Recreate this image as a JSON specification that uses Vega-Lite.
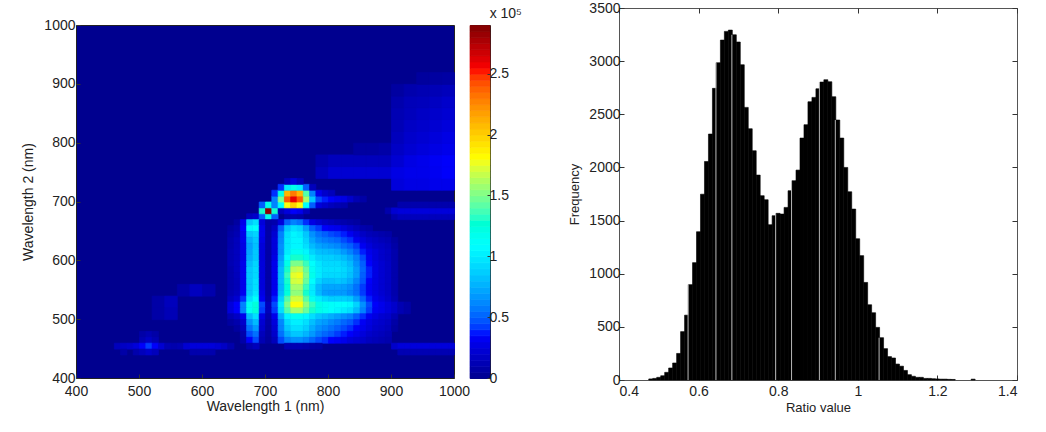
{"$schema":"https://vega.github.io/schema/vega-lite/v6.json","background":"white","padding":{"left":21,"top":0,"right":0,"bottom":0},"bounds":"full","spacing":45,
"config":{"font":"Liberation Sans","view":{"stroke":"#222"},"axis":{"grid":false,"labelFont":"Liberation Sans","titleFont":"Liberation Sans","labelColor":"#222","titleColor":"#222","titleFontWeight":"normal","domain":false,"tickColor":"#333"},"concat":{"spacing":16}},
"datasets":{
"fine":[
{"x":675,"y":675,"v":0.15},{"x":685,"y":675,"v":0.2},{"x":695,"y":675,"v":0.5},{"x":705,"y":675,"v":1.2},{"x":715,"y":675,"v":0.5},{"x":735,"y":675,"v":0.08},{"x":745,"y":675,"v":0.1},{"x":755,"y":675,"v":0.08},{"x":905,"y":675,"v":0.1},{"x":915,"y":675,"v":0.15},{"x":925,"y":675,"v":0.15},{"x":935,"y":675,"v":0.15},{"x":945,"y":675,"v":0.15},{"x":955,"y":675,"v":0.15},{"x":965,"y":675,"v":0.15},{"x":975,"y":675,"v":0.15},{"x":985,"y":675,"v":0.15},{"x":995,"y":675,"v":0.15},
{"x":695,"y":685,"v":1.3},{"x":705,"y":685,"v":2.85},{"x":715,"y":685,"v":1.3},{"x":725,"y":685,"v":0.15},{"x":735,"y":685,"v":0.25},{"x":745,"y":685,"v":0.35},{"x":755,"y":685,"v":0.3},{"x":765,"y":685,"v":0.15},{"x":895,"y":685,"v":0.1},{"x":905,"y":685,"v":0.22},{"x":915,"y":685,"v":0.25},{"x":925,"y":685,"v":0.25},{"x":935,"y":685,"v":0.25},{"x":945,"y":685,"v":0.25},{"x":955,"y":685,"v":0.25},{"x":965,"y":685,"v":0.25},{"x":975,"y":685,"v":0.25},{"x":985,"y":685,"v":0.25},{"x":995,"y":685,"v":0.25},
{"x":695,"y":695,"v":0.5},{"x":705,"y":695,"v":1.2},{"x":715,"y":695,"v":0.6},{"x":725,"y":695,"v":1.1},{"x":735,"y":695,"v":1.8},{"x":745,"y":695,"v":2.0},{"x":755,"y":695,"v":1.8},{"x":765,"y":695,"v":1.1},{"x":775,"y":695,"v":0.5},{"x":785,"y":695,"v":0.25},{"x":795,"y":695,"v":0.2},{"x":805,"y":695,"v":0.15},{"x":815,"y":695,"v":0.12},{"x":825,"y":695,"v":0.1},{"x":915,"y":695,"v":0.1},{"x":935,"y":695,"v":0.1},{"x":955,"y":695,"v":0.1},{"x":975,"y":695,"v":0.1},{"x":995,"y":695,"v":0.1},{"x":925,"y":695,"v":0.1},{"x":945,"y":695,"v":0.1},{"x":965,"y":695,"v":0.1},{"x":985,"y":695,"v":0.1},
{"x":715,"y":705,"v":0.6},{"x":725,"y":705,"v":1.5},{"x":735,"y":705,"v":2.4},{"x":745,"y":705,"v":2.6},{"x":755,"y":705,"v":2.4},{"x":765,"y":705,"v":1.6},{"x":775,"y":705,"v":0.85},{"x":785,"y":705,"v":0.45},{"x":795,"y":705,"v":0.38},{"x":805,"y":705,"v":0.35},{"x":815,"y":705,"v":0.3},{"x":825,"y":705,"v":0.28},{"x":835,"y":705,"v":0.2},{"x":845,"y":705,"v":0.12},{"x":855,"y":705,"v":0.08},
{"x":715,"y":715,"v":0.4},{"x":725,"y":715,"v":1.2},{"x":735,"y":715,"v":2.1},{"x":745,"y":715,"v":2.3},{"x":755,"y":715,"v":2.1},{"x":765,"y":715,"v":1.4},{"x":775,"y":715,"v":0.6},{"x":785,"y":715,"v":0.3},{"x":795,"y":715,"v":0.2},{"x":805,"y":715,"v":0.15},
{"x":725,"y":725,"v":0.4},{"x":735,"y":725,"v":1.0},{"x":745,"y":725,"v":1.2},{"x":755,"y":725,"v":1.0},{"x":765,"y":725,"v":0.5},{"x":775,"y":725,"v":0.15},{"x":735,"y":735,"v":0.15},{"x":745,"y":735,"v":0.25},{"x":755,"y":735,"v":0.15},
{"x":655,"y":665,"v":0.06},{"x":665,"y":665,"v":0.3},{"x":675,"y":665,"v":0.85},{"x":685,"y":665,"v":0.95},{"x":695,"y":665,"v":0.25},{"x":705,"y":665,"v":0.08},{"x":715,"y":665,"v":0.1},{"x":725,"y":665,"v":0.25},{"x":735,"y":665,"v":0.5},{"x":745,"y":665,"v":0.6},{"x":755,"y":665,"v":0.55},{"x":765,"y":665,"v":0.4},{"x":775,"y":665,"v":0.28},{"x":785,"y":665,"v":0.22},{"x":795,"y":665,"v":0.18},{"x":805,"y":665,"v":0.15},{"x":815,"y":665,"v":0.12},{"x":825,"y":665,"v":0.1},{"x":835,"y":665,"v":0.08},{"x":845,"y":665,"v":0.06},
{"x":645,"y":655,"v":0.06},{"x":655,"y":655,"v":0.1},{"x":665,"y":655,"v":0.35},{"x":675,"y":655,"v":1.05},{"x":685,"y":655,"v":1.1},{"x":695,"y":655,"v":0.3},{"x":705,"y":655,"v":0.08},{"x":715,"y":655,"v":0.18},{"x":725,"y":655,"v":0.5},{"x":735,"y":655,"v":0.85},{"x":745,"y":655,"v":0.95},{"x":755,"y":655,"v":0.9},{"x":765,"y":655,"v":0.7},{"x":775,"y":655,"v":0.5},{"x":785,"y":655,"v":0.42},{"x":795,"y":655,"v":0.35},{"x":805,"y":655,"v":0.32},{"x":815,"y":655,"v":0.3},{"x":825,"y":655,"v":0.25},{"x":835,"y":655,"v":0.2},{"x":845,"y":655,"v":0.15},{"x":855,"y":655,"v":0.1},{"x":865,"y":655,"v":0.08},
{"x":645,"y":645,"v":0.08},{"x":655,"y":645,"v":0.12},{"x":665,"y":645,"v":0.3},{"x":675,"y":645,"v":0.85},{"x":685,"y":645,"v":0.9},{"x":695,"y":645,"v":0.3},{"x":705,"y":645,"v":0.08},{"x":715,"y":645,"v":0.22},{"x":725,"y":645,"v":0.6},{"x":735,"y":645,"v":0.95},{"x":745,"y":645,"v":1.05},{"x":755,"y":645,"v":1.0},{"x":765,"y":645,"v":0.85},{"x":775,"y":645,"v":0.65},{"x":785,"y":645,"v":0.55},{"x":795,"y":645,"v":0.5},{"x":805,"y":645,"v":0.45},{"x":815,"y":645,"v":0.42},{"x":825,"y":645,"v":0.38},{"x":835,"y":645,"v":0.32},{"x":845,"y":645,"v":0.25},{"x":855,"y":645,"v":0.18},{"x":865,"y":645,"v":0.14},{"x":875,"y":645,"v":0.12},{"x":885,"y":645,"v":0.1},{"x":895,"y":645,"v":0.08},
{"x":645,"y":635,"v":0.1},{"x":655,"y":635,"v":0.15},{"x":665,"y":635,"v":0.3},{"x":675,"y":635,"v":0.75},{"x":685,"y":635,"v":0.85},{"x":695,"y":635,"v":0.28},{"x":705,"y":635,"v":0.08},{"x":715,"y":635,"v":0.25},{"x":725,"y":635,"v":0.62},{"x":735,"y":635,"v":0.98},{"x":745,"y":635,"v":1.05},{"x":755,"y":635,"v":1.05},{"x":765,"y":635,"v":0.9},{"x":775,"y":635,"v":0.72},{"x":785,"y":635,"v":0.62},{"x":795,"y":635,"v":0.58},{"x":805,"y":635,"v":0.55},{"x":815,"y":635,"v":0.52},{"x":825,"y":635,"v":0.45},{"x":835,"y":635,"v":0.4},{"x":845,"y":635,"v":0.32},{"x":855,"y":635,"v":0.25},{"x":865,"y":635,"v":0.2},{"x":875,"y":635,"v":0.17},{"x":885,"y":635,"v":0.14},{"x":895,"y":635,"v":0.12},{"x":905,"y":635,"v":0.06},
{"x":645,"y":625,"v":0.1},{"x":655,"y":625,"v":0.15},{"x":665,"y":625,"v":0.28},{"x":675,"y":625,"v":0.7},{"x":685,"y":625,"v":0.82},{"x":695,"y":625,"v":0.25},{"x":705,"y":625,"v":0.08},{"x":715,"y":625,"v":0.25},{"x":725,"y":625,"v":0.65},{"x":735,"y":625,"v":0.98},{"x":745,"y":625,"v":1.05},{"x":755,"y":625,"v":1.05},{"x":765,"y":625,"v":0.95},{"x":775,"y":625,"v":0.8},{"x":785,"y":625,"v":0.72},{"x":795,"y":625,"v":0.68},{"x":805,"y":625,"v":0.65},{"x":815,"y":625,"v":0.62},{"x":825,"y":625,"v":0.55},{"x":835,"y":625,"v":0.5},{"x":845,"y":625,"v":0.42},{"x":855,"y":625,"v":0.32},{"x":865,"y":625,"v":0.25},{"x":875,"y":625,"v":0.2},{"x":885,"y":625,"v":0.18},{"x":895,"y":625,"v":0.15},{"x":905,"y":625,"v":0.08},
{"x":645,"y":615,"v":0.12},{"x":655,"y":615,"v":0.16},{"x":665,"y":615,"v":0.28},{"x":675,"y":615,"v":0.72},{"x":685,"y":615,"v":0.85},{"x":695,"y":615,"v":0.25},{"x":705,"y":615,"v":0.08},{"x":715,"y":615,"v":0.25},{"x":725,"y":615,"v":0.65},{"x":735,"y":615,"v":1.0},{"x":745,"y":615,"v":1.15},{"x":755,"y":615,"v":1.15},{"x":765,"y":615,"v":1.05},{"x":775,"y":615,"v":0.9},{"x":785,"y":615,"v":0.82},{"x":795,"y":615,"v":0.8},{"x":805,"y":615,"v":0.78},{"x":815,"y":615,"v":0.75},{"x":825,"y":615,"v":0.68},{"x":835,"y":615,"v":0.6},{"x":845,"y":615,"v":0.5},{"x":855,"y":615,"v":0.38},{"x":865,"y":615,"v":0.3},{"x":875,"y":615,"v":0.25},{"x":885,"y":615,"v":0.2},{"x":895,"y":615,"v":0.17},{"x":905,"y":615,"v":0.1},
{"x":645,"y":605,"v":0.12},{"x":655,"y":605,"v":0.16},{"x":665,"y":605,"v":0.28},{"x":675,"y":605,"v":0.75},{"x":685,"y":605,"v":0.85},{"x":695,"y":605,"v":0.25},{"x":705,"y":605,"v":0.08},{"x":715,"y":605,"v":0.28},{"x":725,"y":605,"v":0.7},{"x":735,"y":605,"v":1.1},{"x":745,"y":605,"v":1.3},{"x":755,"y":605,"v":1.3},{"x":765,"y":605,"v":1.2},{"x":775,"y":605,"v":1.0},{"x":785,"y":605,"v":0.9},{"x":795,"y":605,"v":0.88},{"x":805,"y":605,"v":0.88},{"x":815,"y":605,"v":0.85},{"x":825,"y":605,"v":0.8},{"x":835,"y":605,"v":0.72},{"x":845,"y":605,"v":0.6},{"x":855,"y":605,"v":0.45},{"x":865,"y":605,"v":0.33},{"x":875,"y":605,"v":0.25},{"x":885,"y":605,"v":0.2},{"x":895,"y":605,"v":0.17},{"x":905,"y":605,"v":0.1},
{"x":645,"y":595,"v":0.12},{"x":655,"y":595,"v":0.16},{"x":665,"y":595,"v":0.3},{"x":675,"y":595,"v":0.8},{"x":685,"y":595,"v":0.9},{"x":695,"y":595,"v":0.25},{"x":705,"y":595,"v":0.08},{"x":715,"y":595,"v":0.3},{"x":725,"y":595,"v":0.75},{"x":735,"y":595,"v":1.2},{"x":745,"y":595,"v":1.5},{"x":755,"y":595,"v":1.5},{"x":765,"y":595,"v":1.35},{"x":775,"y":595,"v":1.1},{"x":785,"y":595,"v":0.98},{"x":795,"y":595,"v":0.92},{"x":805,"y":595,"v":0.92},{"x":815,"y":595,"v":0.92},{"x":825,"y":595,"v":0.88},{"x":835,"y":595,"v":0.8},{"x":845,"y":595,"v":0.65},{"x":855,"y":595,"v":0.5},{"x":865,"y":595,"v":0.36},{"x":875,"y":595,"v":0.27},{"x":885,"y":595,"v":0.22},{"x":895,"y":595,"v":0.18},{"x":905,"y":595,"v":0.1},
{"x":645,"y":585,"v":0.1},{"x":655,"y":585,"v":0.16},{"x":665,"y":585,"v":0.3},{"x":675,"y":585,"v":0.85},{"x":685,"y":585,"v":0.92},{"x":695,"y":585,"v":0.25},{"x":705,"y":585,"v":0.08},{"x":715,"y":585,"v":0.3},{"x":725,"y":585,"v":0.8},{"x":735,"y":585,"v":1.3},{"x":745,"y":585,"v":1.65},{"x":755,"y":585,"v":1.68},{"x":765,"y":585,"v":1.45},{"x":775,"y":585,"v":1.15},{"x":785,"y":585,"v":1.0},{"x":795,"y":585,"v":0.95},{"x":805,"y":585,"v":0.95},{"x":815,"y":585,"v":0.95},{"x":825,"y":585,"v":0.92},{"x":835,"y":585,"v":0.85},{"x":845,"y":585,"v":0.7},{"x":855,"y":585,"v":0.52},{"x":865,"y":585,"v":0.38},{"x":875,"y":585,"v":0.28},{"x":885,"y":585,"v":0.22},{"x":895,"y":585,"v":0.18},{"x":905,"y":585,"v":0.1},
{"x":645,"y":575,"v":0.1},{"x":655,"y":575,"v":0.15},{"x":665,"y":575,"v":0.3},{"x":675,"y":575,"v":0.85},{"x":685,"y":575,"v":0.92},{"x":695,"y":575,"v":0.25},{"x":705,"y":575,"v":0.08},{"x":715,"y":575,"v":0.3},{"x":725,"y":575,"v":0.8},{"x":735,"y":575,"v":1.35},{"x":745,"y":575,"v":1.75},{"x":755,"y":575,"v":1.78},{"x":765,"y":575,"v":1.5},{"x":775,"y":575,"v":1.18},{"x":785,"y":575,"v":1.0},{"x":795,"y":575,"v":0.92},{"x":805,"y":575,"v":0.92},{"x":815,"y":575,"v":0.92},{"x":825,"y":575,"v":0.9},{"x":835,"y":575,"v":0.82},{"x":845,"y":575,"v":0.7},{"x":855,"y":575,"v":0.5},{"x":865,"y":575,"v":0.38},{"x":875,"y":575,"v":0.28},{"x":885,"y":575,"v":0.22},{"x":895,"y":575,"v":0.18},{"x":905,"y":575,"v":0.1},
{"x":645,"y":565,"v":0.1},{"x":655,"y":565,"v":0.14},{"x":665,"y":565,"v":0.3},{"x":675,"y":565,"v":0.85},{"x":685,"y":565,"v":0.95},{"x":695,"y":565,"v":0.25},{"x":705,"y":565,"v":0.08},{"x":715,"y":565,"v":0.3},{"x":725,"y":565,"v":0.8},{"x":735,"y":565,"v":1.3},{"x":745,"y":565,"v":1.7},{"x":755,"y":565,"v":1.72},{"x":765,"y":565,"v":1.45},{"x":775,"y":565,"v":1.1},{"x":785,"y":565,"v":0.9},{"x":795,"y":565,"v":0.82},{"x":805,"y":565,"v":0.82},{"x":815,"y":565,"v":0.85},{"x":825,"y":565,"v":0.82},{"x":835,"y":565,"v":0.75},{"x":845,"y":565,"v":0.62},{"x":855,"y":565,"v":0.48},{"x":865,"y":565,"v":0.35},{"x":875,"y":565,"v":0.27},{"x":885,"y":565,"v":0.22},{"x":895,"y":565,"v":0.18},{"x":905,"y":565,"v":0.1},
{"x":645,"y":555,"v":0.1},{"x":655,"y":555,"v":0.14},{"x":665,"y":555,"v":0.3},{"x":675,"y":555,"v":0.85},{"x":685,"y":555,"v":0.95},{"x":695,"y":555,"v":0.25},{"x":705,"y":555,"v":0.08},{"x":715,"y":555,"v":0.3},{"x":725,"y":555,"v":0.78},{"x":735,"y":555,"v":1.25},{"x":745,"y":555,"v":1.6},{"x":755,"y":555,"v":1.6},{"x":765,"y":555,"v":1.35},{"x":775,"y":555,"v":1.0},{"x":785,"y":555,"v":0.8},{"x":795,"y":555,"v":0.72},{"x":805,"y":555,"v":0.72},{"x":815,"y":555,"v":0.72},{"x":825,"y":555,"v":0.7},{"x":835,"y":555,"v":0.65},{"x":845,"y":555,"v":0.55},{"x":855,"y":555,"v":0.42},{"x":865,"y":555,"v":0.33},{"x":875,"y":555,"v":0.27},{"x":885,"y":555,"v":0.22},{"x":895,"y":555,"v":0.18},{"x":905,"y":555,"v":0.1},
{"x":645,"y":545,"v":0.12},{"x":655,"y":545,"v":0.16},{"x":665,"y":545,"v":0.32},{"x":675,"y":545,"v":0.85},{"x":685,"y":545,"v":0.98},{"x":695,"y":545,"v":0.28},{"x":705,"y":545,"v":0.08},{"x":715,"y":545,"v":0.32},{"x":725,"y":545,"v":0.8},{"x":735,"y":545,"v":1.25},{"x":745,"y":545,"v":1.55},{"x":755,"y":545,"v":1.55},{"x":765,"y":545,"v":1.3},{"x":775,"y":545,"v":1.0},{"x":785,"y":545,"v":0.8},{"x":795,"y":545,"v":0.7},{"x":805,"y":545,"v":0.68},{"x":815,"y":545,"v":0.68},{"x":825,"y":545,"v":0.68},{"x":835,"y":545,"v":0.62},{"x":845,"y":545,"v":0.55},{"x":855,"y":545,"v":0.42},{"x":865,"y":545,"v":0.33},{"x":875,"y":545,"v":0.27},{"x":885,"y":545,"v":0.22},{"x":895,"y":545,"v":0.18},{"x":905,"y":545,"v":0.1},
{"x":645,"y":535,"v":0.16},{"x":655,"y":535,"v":0.22},{"x":665,"y":535,"v":0.4},{"x":675,"y":535,"v":0.95},{"x":685,"y":535,"v":1.1},{"x":695,"y":535,"v":0.32},{"x":705,"y":535,"v":0.1},{"x":715,"y":535,"v":0.38},{"x":725,"y":535,"v":0.9},{"x":735,"y":535,"v":1.4},{"x":745,"y":535,"v":1.7},{"x":755,"y":535,"v":1.7},{"x":765,"y":535,"v":1.42},{"x":775,"y":535,"v":1.15},{"x":785,"y":535,"v":1.0},{"x":795,"y":535,"v":0.92},{"x":805,"y":535,"v":0.88},{"x":815,"y":535,"v":0.88},{"x":825,"y":535,"v":0.88},{"x":835,"y":535,"v":0.85},{"x":845,"y":535,"v":0.7},{"x":855,"y":535,"v":0.52},{"x":865,"y":535,"v":0.38},{"x":875,"y":535,"v":0.3},{"x":885,"y":535,"v":0.25},{"x":895,"y":535,"v":0.2},{"x":905,"y":535,"v":0.12},
{"x":645,"y":525,"v":0.25},{"x":655,"y":525,"v":0.35},{"x":665,"y":525,"v":0.6},{"x":675,"y":525,"v":1.15},{"x":685,"y":525,"v":1.25},{"x":695,"y":525,"v":0.45},{"x":705,"y":525,"v":0.15},{"x":715,"y":525,"v":0.45},{"x":725,"y":525,"v":1.0},{"x":735,"y":525,"v":1.5},{"x":745,"y":525,"v":1.8},{"x":755,"y":525,"v":1.8},{"x":765,"y":525,"v":1.55},{"x":775,"y":525,"v":1.35},{"x":785,"y":525,"v":1.2},{"x":795,"y":525,"v":1.15},{"x":805,"y":525,"v":1.12},{"x":815,"y":525,"v":1.1},{"x":825,"y":525,"v":1.1},{"x":835,"y":525,"v":1.05},{"x":845,"y":525,"v":0.9},{"x":855,"y":525,"v":0.65},{"x":865,"y":525,"v":0.45},{"x":875,"y":525,"v":0.35},{"x":885,"y":525,"v":0.3},{"x":895,"y":525,"v":0.25},{"x":905,"y":525,"v":0.2},{"x":915,"y":525,"v":0.12},{"x":925,"y":525,"v":0.08},
{"x":645,"y":515,"v":0.25},{"x":655,"y":515,"v":0.35},{"x":665,"y":515,"v":0.6},{"x":675,"y":515,"v":1.15},{"x":685,"y":515,"v":1.25},{"x":695,"y":515,"v":0.42},{"x":705,"y":515,"v":0.15},{"x":715,"y":515,"v":0.42},{"x":725,"y":515,"v":0.95},{"x":735,"y":515,"v":1.4},{"x":745,"y":515,"v":1.6},{"x":755,"y":515,"v":1.6},{"x":765,"y":515,"v":1.45},{"x":775,"y":515,"v":1.3},{"x":785,"y":515,"v":1.2},{"x":795,"y":515,"v":1.15},{"x":805,"y":515,"v":1.1},{"x":815,"y":515,"v":1.05},{"x":825,"y":515,"v":1.0},{"x":835,"y":515,"v":0.95},{"x":845,"y":515,"v":0.8},{"x":855,"y":515,"v":0.6},{"x":865,"y":515,"v":0.42},{"x":875,"y":515,"v":0.33},{"x":885,"y":515,"v":0.3},{"x":895,"y":515,"v":0.25},{"x":905,"y":515,"v":0.2},{"x":915,"y":515,"v":0.12},{"x":925,"y":515,"v":0.08},
{"x":645,"y":505,"v":0.12},{"x":655,"y":505,"v":0.18},{"x":665,"y":505,"v":0.3},{"x":675,"y":505,"v":0.8},{"x":685,"y":505,"v":0.95},{"x":695,"y":505,"v":0.28},{"x":705,"y":505,"v":0.1},{"x":715,"y":505,"v":0.3},{"x":725,"y":505,"v":0.75},{"x":735,"y":505,"v":1.05},{"x":745,"y":505,"v":1.15},{"x":755,"y":505,"v":1.15},{"x":765,"y":505,"v":1.05},{"x":775,"y":505,"v":0.95},{"x":785,"y":505,"v":0.85},{"x":795,"y":505,"v":0.8},{"x":805,"y":505,"v":0.75},{"x":815,"y":505,"v":0.7},{"x":825,"y":505,"v":0.65},{"x":835,"y":505,"v":0.6},{"x":845,"y":505,"v":0.5},{"x":855,"y":505,"v":0.4},{"x":865,"y":505,"v":0.32},{"x":875,"y":505,"v":0.27},{"x":885,"y":505,"v":0.22},{"x":895,"y":505,"v":0.2},{"x":905,"y":505,"v":0.12},
{"x":645,"y":495,"v":0.06},{"x":655,"y":495,"v":0.1},{"x":665,"y":495,"v":0.2},{"x":675,"y":495,"v":0.65},{"x":685,"y":495,"v":0.8},{"x":695,"y":495,"v":0.22},{"x":705,"y":495,"v":0.08},{"x":715,"y":495,"v":0.25},{"x":725,"y":495,"v":0.62},{"x":735,"y":495,"v":0.92},{"x":745,"y":495,"v":1.02},{"x":755,"y":495,"v":1.02},{"x":765,"y":495,"v":0.95},{"x":775,"y":495,"v":0.82},{"x":785,"y":495,"v":0.72},{"x":795,"y":495,"v":0.68},{"x":805,"y":495,"v":0.62},{"x":815,"y":495,"v":0.58},{"x":825,"y":495,"v":0.52},{"x":835,"y":495,"v":0.48},{"x":845,"y":495,"v":0.4},{"x":855,"y":495,"v":0.33},{"x":865,"y":495,"v":0.27},{"x":875,"y":495,"v":0.22},{"x":885,"y":495,"v":0.2},{"x":895,"y":495,"v":0.17},{"x":905,"y":495,"v":0.08},
{"x":655,"y":485,"v":0.06},{"x":665,"y":485,"v":0.15},{"x":675,"y":485,"v":0.55},{"x":685,"y":485,"v":0.68},{"x":695,"y":485,"v":0.2},{"x":705,"y":485,"v":0.07},{"x":715,"y":485,"v":0.22},{"x":725,"y":485,"v":0.6},{"x":735,"y":485,"v":0.85},{"x":745,"y":485,"v":0.95},{"x":755,"y":485,"v":0.95},{"x":765,"y":485,"v":0.88},{"x":775,"y":485,"v":0.75},{"x":785,"y":485,"v":0.65},{"x":795,"y":485,"v":0.6},{"x":805,"y":485,"v":0.55},{"x":815,"y":485,"v":0.5},{"x":825,"y":485,"v":0.45},{"x":835,"y":485,"v":0.4},{"x":845,"y":485,"v":0.35},{"x":855,"y":485,"v":0.3},{"x":865,"y":485,"v":0.25},{"x":875,"y":485,"v":0.2},{"x":885,"y":485,"v":0.18},{"x":895,"y":485,"v":0.15},{"x":905,"y":485,"v":0.06},
{"x":665,"y":475,"v":0.1},{"x":675,"y":475,"v":0.45},{"x":685,"y":475,"v":0.55},{"x":695,"y":475,"v":0.15},{"x":705,"y":475,"v":0.06},{"x":715,"y":475,"v":0.2},{"x":725,"y":475,"v":0.55},{"x":735,"y":475,"v":0.75},{"x":745,"y":475,"v":0.85},{"x":755,"y":475,"v":0.85},{"x":765,"y":475,"v":0.78},{"x":775,"y":475,"v":0.68},{"x":785,"y":475,"v":0.58},{"x":795,"y":475,"v":0.52},{"x":805,"y":475,"v":0.48},{"x":815,"y":475,"v":0.42},{"x":825,"y":475,"v":0.38},{"x":835,"y":475,"v":0.35},{"x":845,"y":475,"v":0.3},{"x":855,"y":475,"v":0.25},{"x":865,"y":475,"v":0.2},{"x":875,"y":475,"v":0.17},{"x":885,"y":475,"v":0.15},{"x":895,"y":475,"v":0.12},{"x":505,"y":475,"v":0.08},{"x":515,"y":475,"v":0.12},{"x":525,"y":475,"v":0.08},
{"x":665,"y":465,"v":0.08},{"x":675,"y":465,"v":0.35},{"x":685,"y":465,"v":0.45},{"x":695,"y":465,"v":0.12},{"x":705,"y":465,"v":0.05},{"x":715,"y":465,"v":0.15},{"x":725,"y":465,"v":0.45},{"x":735,"y":465,"v":0.6},{"x":745,"y":465,"v":0.65},{"x":755,"y":465,"v":0.65},{"x":765,"y":465,"v":0.6},{"x":775,"y":465,"v":0.52},{"x":785,"y":465,"v":0.45},{"x":795,"y":465,"v":0.4},{"x":805,"y":465,"v":0.36},{"x":815,"y":465,"v":0.33},{"x":825,"y":465,"v":0.3},{"x":835,"y":465,"v":0.25},{"x":845,"y":465,"v":0.22},{"x":855,"y":465,"v":0.2},{"x":865,"y":465,"v":0.16},{"x":875,"y":465,"v":0.14},{"x":885,"y":465,"v":0.12},{"x":895,"y":465,"v":0.1},{"x":505,"y":465,"v":0.12},{"x":515,"y":465,"v":0.18},{"x":525,"y":465,"v":0.12},
{"x":465,"y":455,"v":0.15},{"x":475,"y":455,"v":0.18},{"x":485,"y":455,"v":0.2},{"x":495,"y":455,"v":0.25},{"x":505,"y":455,"v":0.35},{"x":515,"y":455,"v":0.42},{"x":525,"y":455,"v":0.35},{"x":535,"y":455,"v":0.22},{"x":545,"y":455,"v":0.12},{"x":555,"y":455,"v":0.1},{"x":565,"y":455,"v":0.12},{"x":575,"y":455,"v":0.22},{"x":585,"y":455,"v":0.25},{"x":595,"y":455,"v":0.25},{"x":605,"y":455,"v":0.25},{"x":615,"y":455,"v":0.25},{"x":625,"y":455,"v":0.22},{"x":635,"y":455,"v":0.18},{"x":645,"y":455,"v":0.1},{"x":675,"y":455,"v":0.1},{"x":685,"y":455,"v":0.15},{"x":735,"y":455,"v":0.12},{"x":745,"y":455,"v":0.12},{"x":755,"y":455,"v":0.12},{"x":765,"y":455,"v":0.1},{"x":775,"y":455,"v":0.08},{"x":785,"y":455,"v":0.07},{"x":905,"y":455,"v":0.2},{"x":915,"y":455,"v":0.25},{"x":925,"y":455,"v":0.25},{"x":935,"y":455,"v":0.25},{"x":945,"y":455,"v":0.25},{"x":955,"y":455,"v":0.25},{"x":965,"y":455,"v":0.25},{"x":975,"y":455,"v":0.25},{"x":985,"y":455,"v":0.25},{"x":995,"y":455,"v":0.25},
{"x":475,"y":445,"v":0.08},{"x":495,"y":445,"v":0.1},{"x":505,"y":445,"v":0.15},{"x":515,"y":445,"v":0.2},{"x":525,"y":445,"v":0.15},{"x":585,"y":445,"v":0.1},{"x":595,"y":445,"v":0.1},{"x":605,"y":445,"v":0.1},{"x":615,"y":445,"v":0.1},{"x":915,"y":445,"v":0.12},{"x":925,"y":445,"v":0.12},{"x":935,"y":445,"v":0.12},{"x":945,"y":445,"v":0.12},{"x":955,"y":445,"v":0.12},{"x":965,"y":445,"v":0.12},{"x":975,"y":445,"v":0.12},{"x":985,"y":445,"v":0.12},{"x":995,"y":445,"v":0.12}
],
"coarse":[
{"x":910,"y":730,"v":0.25},{"x":930,"y":730,"v":0.28},{"x":950,"y":730,"v":0.28},{"x":970,"y":730,"v":0.3},{"x":990,"y":730,"v":0.3},
{"x":790,"y":750,"v":0.15},{"x":810,"y":750,"v":0.22},{"x":830,"y":750,"v":0.22},{"x":850,"y":750,"v":0.22},{"x":870,"y":750,"v":0.22},{"x":890,"y":750,"v":0.22},{"x":910,"y":750,"v":0.28},{"x":930,"y":750,"v":0.3},{"x":950,"y":750,"v":0.3},{"x":970,"y":750,"v":0.32},{"x":990,"y":750,"v":0.35},
{"x":790,"y":770,"v":0.1},{"x":810,"y":770,"v":0.15},{"x":830,"y":770,"v":0.15},{"x":850,"y":770,"v":0.15},{"x":870,"y":770,"v":0.15},{"x":890,"y":770,"v":0.15},{"x":910,"y":770,"v":0.22},{"x":930,"y":770,"v":0.28},{"x":950,"y":770,"v":0.3},{"x":970,"y":770,"v":0.33},{"x":990,"y":770,"v":0.35},
{"x":850,"y":790,"v":0.06},{"x":870,"y":790,"v":0.06},{"x":890,"y":790,"v":0.08},{"x":910,"y":790,"v":0.18},{"x":930,"y":790,"v":0.22},{"x":950,"y":790,"v":0.25},{"x":970,"y":790,"v":0.28},{"x":990,"y":790,"v":0.3},
{"x":910,"y":810,"v":0.15},{"x":930,"y":810,"v":0.2},{"x":950,"y":810,"v":0.22},{"x":970,"y":810,"v":0.25},{"x":990,"y":810,"v":0.28},
{"x":910,"y":830,"v":0.13},{"x":930,"y":830,"v":0.18},{"x":950,"y":830,"v":0.2},{"x":970,"y":830,"v":0.22},{"x":990,"y":830,"v":0.25},
{"x":910,"y":850,"v":0.12},{"x":930,"y":850,"v":0.15},{"x":950,"y":850,"v":0.18},{"x":970,"y":850,"v":0.2},{"x":990,"y":850,"v":0.22},
{"x":910,"y":870,"v":0.1},{"x":930,"y":870,"v":0.14},{"x":950,"y":870,"v":0.15},{"x":970,"y":870,"v":0.17},{"x":990,"y":870,"v":0.2},
{"x":910,"y":890,"v":0.06},{"x":930,"y":890,"v":0.1},{"x":950,"y":890,"v":0.12},{"x":970,"y":890,"v":0.13},{"x":990,"y":890,"v":0.15},
{"x":950,"y":910,"v":0.05},{"x":970,"y":910,"v":0.06},{"x":990,"y":910,"v":0.07},
{"x":570,"y":550,"v":0.08},{"x":590,"y":550,"v":0.16},{"x":610,"y":550,"v":0.1},{"x":530,"y":530,"v":0.08},{"x":550,"y":530,"v":0.15},{"x":530,"y":510,"v":0.08},{"x":550,"y":510,"v":0.13}
],
"bar":[
{"v":0.025},{"v":0.075},{"v":0.125},{"v":0.175},{"v":0.225},{"v":0.275},{"v":0.325},{"v":0.375},{"v":0.425},{"v":0.475},{"v":0.525},{"v":0.575},{"v":0.625},{"v":0.675},{"v":0.725},{"v":0.775},{"v":0.825},{"v":0.875},{"v":0.925},{"v":0.975},{"v":1.025},{"v":1.075},{"v":1.125},{"v":1.175},{"v":1.225},{"v":1.275},{"v":1.325},{"v":1.375},{"v":1.425},{"v":1.475},{"v":1.525},{"v":1.575},{"v":1.625},{"v":1.675},{"v":1.725},{"v":1.775},{"v":1.825},{"v":1.875},{"v":1.925},{"v":1.975},{"v":2.025},{"v":2.075},{"v":2.125},{"v":2.175},{"v":2.225},{"v":2.275},{"v":2.325},{"v":2.375},{"v":2.425},{"v":2.475},{"v":2.525},{"v":2.575},{"v":2.625},{"v":2.675},{"v":2.725},{"v":2.775},{"v":2.825},{"v":2.875}
],
"hist":[
{"r":0.4735,"r2":0.4835,"f":10},{"r":0.4835,"r2":0.4935,"f":15},{"r":0.4935,"r2":0.5035,"f":25},{"r":0.5035,"r2":0.5135,"f":40},{"r":0.5135,"r2":0.5235,"f":72},{"r":0.5235,"r2":0.5335,"f":113},{"r":0.5335,"r2":0.5435,"f":160},{"r":0.5435,"r2":0.5535,"f":250},{"r":0.5535,"r2":0.5635,"f":455},{"r":0.5635,"r2":0.5735,"f":610},{"r":0.5735,"r2":0.5835,"f":897},{"r":0.5835,"r2":0.5935,"f":1104},{"r":0.5935,"r2":0.6035,"f":1395},{"r":0.6035,"r2":0.6135,"f":1748},{"r":0.6135,"r2":0.6235,"f":2056},{"r":0.6235,"r2":0.6335,"f":2314},{"r":0.6335,"r2":0.6435,"f":2744},{"r":0.6435,"r2":0.6535,"f":2985},{"r":0.6535,"r2":0.6635,"f":3198},{"r":0.6635,"r2":0.6735,"f":3280},{"r":0.6735,"r2":0.6835,"f":3292},{"r":0.6835,"r2":0.6935,"f":3248},{"r":0.6935,"r2":0.7035,"f":3180},{"r":0.7035,"r2":0.7135,"f":2966},{"r":0.7135,"r2":0.7235,"f":2565},{"r":0.7235,"r2":0.7335,"f":2364},{"r":0.7335,"r2":0.7435,"f":2157},{"r":0.7435,"r2":0.7535,"f":1928},{"r":0.7535,"r2":0.7635,"f":1734},{"r":0.7635,"r2":0.7735,"f":1696},{"r":0.7735,"r2":0.7835,"f":1461},{"r":0.7835,"r2":0.7935,"f":1546},{"r":0.7935,"r2":0.8035,"f":1568},{"r":0.8035,"r2":0.8135,"f":1561},{"r":0.8135,"r2":0.8235,"f":1624},{"r":0.8235,"r2":0.8335,"f":1781},{"r":0.8335,"r2":0.8435,"f":1875},{"r":0.8435,"r2":0.8535,"f":1975},{"r":0.8535,"r2":0.8635,"f":2276},{"r":0.8635,"r2":0.8735,"f":2402},{"r":0.8735,"r2":0.8835,"f":2618},{"r":0.8835,"r2":0.8935,"f":2659},{"r":0.8935,"r2":0.9035,"f":2740},{"r":0.9035,"r2":0.9135,"f":2803},{"r":0.9135,"r2":0.9235,"f":2825},{"r":0.9235,"r2":0.9335,"f":2806},{"r":0.9335,"r2":0.9435,"f":2665},{"r":0.9435,"r2":0.9535,"f":2446},{"r":0.9535,"r2":0.9635,"f":2276},{"r":0.9635,"r2":0.9735,"f":2000},{"r":0.9735,"r2":0.9835,"f":1771},{"r":0.9835,"r2":0.9935,"f":1608},{"r":0.9935,"r2":1.0035,"f":1329},{"r":1.0035,"r2":1.0135,"f":1170},{"r":1.0135,"r2":1.0235,"f":918},{"r":1.0235,"r2":1.0335,"f":708},{"r":1.0335,"r2":1.0435,"f":633},{"r":1.0435,"r2":1.0535,"f":495},{"r":1.0535,"r2":1.0635,"f":398},{"r":1.0635,"r2":1.0735,"f":295},{"r":1.0735,"r2":1.0835,"f":220},{"r":1.0835,"r2":1.0935,"f":207},{"r":1.0935,"r2":1.1035,"f":150},{"r":1.1035,"r2":1.1135,"f":130},{"r":1.1135,"r2":1.1235,"f":90},{"r":1.1235,"r2":1.1335,"f":50},{"r":1.1335,"r2":1.1435,"f":35},{"r":1.1435,"r2":1.1535,"f":25},{"r":1.1535,"r2":1.1635,"f":25},{"r":1.1635,"r2":1.1735,"f":15},{"r":1.1735,"r2":1.1835,"f":15},{"r":1.1835,"r2":1.1935,"f":12},{"r":1.1935,"r2":1.2035,"f":10},{"r":1.2035,"r2":1.2135,"f":8},{"r":1.2135,"r2":1.2235,"f":8},{"r":1.2235,"r2":1.2335,"f":6},{"r":1.2335,"r2":1.2435,"f":5},{"r":1.2835,"r2":1.2935,"f":8}
],
"gaps":[{"r":0.5735,"f":897},{"r":0.6435,"f":2985},{"r":0.6835,"f":3248},{"r":0.7935,"f":1568},{"r":0.8335,"f":1875},{"r":0.9035,"f":2803},{"r":0.9435,"f":2446},{"r":1.0535,"f":398}]
},
"hconcat":[
{"bounds":"flush","spacing":16,"vconcat":[
 {"width":1,"height":1,"view":{"stroke":null},"mark":{"type":"rule","opacity":0},"encoding":{}},
 {"bounds":"flush","spacing":16,"hconcat":[
 {"width":378,"height":353,"view":{"fill":"#00008f","stroke":"#222"},
  "layer":[
  {"data":{"name":"coarse"},"mark":{"type":"rect","strokeWidth":0.7},"encoding":{
    "x":{"field":"x","type":"quantitative","bin":{"step":20,"extent":[400,1000]},"scale":{"domain":[400,1000],"nice":false,"zero":false},"axis":{"values":[400,500,600,700,800,900,1000],"format":"d","title":"Wavelength 1 (nm)","labelFontSize":14,"titleFontSize":14,"tickSize":-4,"labelPadding":10,"titlePadding":1,"labelFlush":false}},
    "y":{"field":"y","type":"quantitative","bin":{"step":20,"extent":[400,1000]},"scale":{"domain":[400,1000],"nice":false,"zero":false},"axis":{"values":[400,500,600,700,800,900,1000],"format":"d","title":"Wavelength 2 (nm)","labelFontSize":14,"titleFontSize":14,"tickSize":-4,"labelPadding":5,"titlePadding":8}},
    "color":{"field":"v","type":"quantitative","legend":null,"scale":{"domain":[0,0.3625,1.0875,1.8125,2.5375,2.9],"range":["#00008f","#0000ff","#00ffff","#ffff00","#ff0000","#800000"]}},
    "stroke":{"field":"v","type":"quantitative","legend":null,"scale":{"domain":[0,0.3625,1.0875,1.8125,2.5375,2.9],"range":["#00008f","#0000ff","#00ffff","#ffff00","#ff0000","#800000"]}}}},
  {"data":{"name":"fine"},"mark":{"type":"rect","strokeWidth":0.7},"encoding":{
    "x":{"field":"x","type":"quantitative","bin":{"step":10,"extent":[400,1000]}},
    "y":{"field":"y","type":"quantitative","bin":{"step":10,"extent":[400,1000]}},
    "color":{"field":"v","type":"quantitative","legend":null},
    "stroke":{"field":"v","type":"quantitative","legend":null}}}
  ]},
 {"width":20,"height":353,"title":{"text":"x 10⁵","anchor":"start","dx":20,"fontSize":14,"fontWeight":"normal","font":"Liberation Sans","color":"#222","offset":4},"data":{"name":"bar"},"mark":{"type":"rect","strokeWidth":0.7},"encoding":{
    "y":{"field":"v","type":"quantitative","bin":{"step":0.05,"extent":[0,2.9]},"scale":{"domain":[0,2.9],"nice":false,"zero":false},"axis":{"orient":"right","values":[0,0.5,1,1.5,2,2.5],"format":"~g","title":null,"labelFontSize":14,"tickSize":-3,"labelPadding":2}},
    "color":{"field":"v","type":"quantitative","legend":null,"scale":{"domain":[0,0.3625,1.0875,1.8125,2.5375,2.9],"range":["#00008f","#0000ff","#00ffff","#ffff00","#ff0000","#800000"]}},
    "stroke":{"field":"v","type":"quantitative","legend":null,"scale":{"domain":[0,0.3625,1.0875,1.8125,2.5375,2.9],"range":["#00008f","#0000ff","#00ffff","#ffff00","#ff0000","#800000"]}}}}
 ]}
]},
{"width":398,"height":372,"view":{"stroke":"#555"},
 "resolve":{"axis":{"x":"independent","y":"independent"}},
 "layer":[
 {"data":{"name":"hist"},"mark":{"type":"bar","color":"#000","binSpacing":0,"stroke":"#000","strokeWidth":0.6},"encoding":{
   "x":{"field":"r","type":"quantitative","bin":{"binned":true},"scale":{"domain":[0.4,1.4],"nice":false,"zero":false},"axis":{"values":[0.4,0.6,0.8,1,1.2,1.4],"format":"~g","title":"Ratio value","labelFontSize":14,"titleFontSize":13,"tickSize":-5,"labelPadding":9,"titlePadding":3}},
   "x2":{"field":"r2"},
   "y":{"field":"f","type":"quantitative","scale":{"domain":[0,3500],"nice":false},"axis":{"values":[0,500,1000,1500,2000,2500,3000,3500],"format":"d","title":"Frequency","labelFontSize":14,"titleFontSize":13,"tickSize":-5,"labelPadding":4,"titlePadding":7}}}},
 {"data":{"name":"gaps"},"mark":{"type":"rule","color":"#b5b5b5","strokeWidth":1},"encoding":{
   "x":{"field":"r","type":"quantitative","axis":{"orient":"top","values":[0.4,0.6,0.8,1,1.2,1.4],"labels":false,"title":null,"tickSize":-5}},
   "y":{"field":"f","type":"quantitative","axis":{"orient":"right","values":[0,500,1000,1500,2000,2500,3000,3500],"labels":false,"title":null,"tickSize":-5}},
   "y2":{"datum":0}}}
 ]}
]}
